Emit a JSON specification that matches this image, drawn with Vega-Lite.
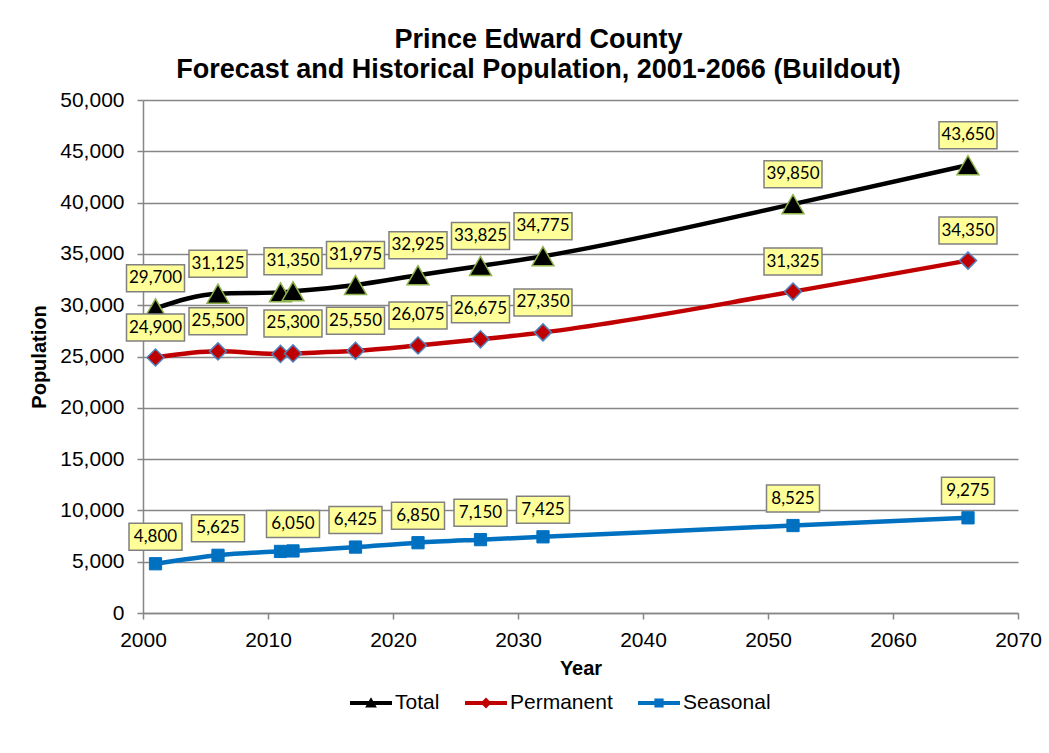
{
  "$schema": "https://vega.github.io/schema/vega-lite/v6.json",
  "autosize": {"type": "none"},
  "padding": {"left": 143, "top": 100, "right": 31, "bottom": 140},
  "width": 875,
  "height": 513,
  "background": "white",
  "title": {
    "text": ["Prince Edward County", "Forecast and Historical Population, 2001-2066 (Buildout)"],
    "font": "Liberation Sans",
    "fontSize": 27,
    "fontWeight": "bold",
    "lineHeight": 30.5,
    "color": "black",
    "anchor": "middle",
    "dx": -42,
    "offset": 5
  },
  "data": {
    "values": [
      {"year": 2001, "series": "Total", "population": 29700},
      {"year": 2006, "series": "Total", "population": 31125},
      {"year": 2011, "series": "Total", "population": 31250},
      {"year": 2012, "series": "Total", "population": 31350},
      {"year": 2017, "series": "Total", "population": 31975},
      {"year": 2022, "series": "Total", "population": 32925},
      {"year": 2027, "series": "Total", "population": 33825},
      {"year": 2032, "series": "Total", "population": 34775},
      {"year": 2052, "series": "Total", "population": 39850},
      {"year": 2066, "series": "Total", "population": 43650},
      {"year": 2001, "series": "Permanent", "population": 24900},
      {"year": 2006, "series": "Permanent", "population": 25500},
      {"year": 2011, "series": "Permanent", "population": 25250},
      {"year": 2012, "series": "Permanent", "population": 25300},
      {"year": 2017, "series": "Permanent", "population": 25550},
      {"year": 2022, "series": "Permanent", "population": 26075},
      {"year": 2027, "series": "Permanent", "population": 26675},
      {"year": 2032, "series": "Permanent", "population": 27350},
      {"year": 2052, "series": "Permanent", "population": 31325},
      {"year": 2066, "series": "Permanent", "population": 34350},
      {"year": 2001, "series": "Seasonal", "population": 4800},
      {"year": 2006, "series": "Seasonal", "population": 5625},
      {"year": 2011, "series": "Seasonal", "population": 6000},
      {"year": 2012, "series": "Seasonal", "population": 6050},
      {"year": 2017, "series": "Seasonal", "population": 6425},
      {"year": 2022, "series": "Seasonal", "population": 6850},
      {"year": 2027, "series": "Seasonal", "population": 7150},
      {"year": 2032, "series": "Seasonal", "population": 7425},
      {"year": 2052, "series": "Seasonal", "population": 8525},
      {"year": 2066, "series": "Seasonal", "population": 9275}
    ]
  },
  "encoding": {
    "x": {
      "field": "year",
      "type": "quantitative",
      "scale": {"domain": [2000, 2070], "nice": false, "zero": false},
      "axis": {
        "title": "Year",
        "values": [2000, 2010, 2020, 2030, 2040, 2050, 2060, 2070],
        "format": "d",
        "grid": false,
        "domainColor": "#868686",
        "domainWidth": 1.5,
        "tickColor": "#868686",
        "tickWidth": 1.5,
        "tickSize": 6,
        "labelPadding": 10,
        "labelFont": "Liberation Sans",
        "labelFontSize": 21,
        "labelColor": "black",
        "labelFlush": false,
        "titleFont": "Liberation Sans",
        "titleFontSize": 20,
        "titleFontWeight": "bold",
        "titleColor": "black",
        "titlePadding": 8
      }
    },
    "y": {
      "field": "population",
      "type": "quantitative",
      "scale": {"domain": [0, 50000], "nice": false},
      "axis": {
        "title": "Population",
        "values": [0, 5000, 10000, 15000, 20000, 25000, 30000, 35000, 40000, 45000, 50000],
        "format": ",d",
        "grid": true,
        "gridColor": "#868686",
        "gridWidth": 1.5,
        "domainColor": "#868686",
        "domainWidth": 1.5,
        "tickColor": "#868686",
        "tickWidth": 1.5,
        "tickSize": 6,
        "labelPadding": 13,
        "labelFont": "Liberation Sans",
        "labelFontSize": 21,
        "labelColor": "black",
        "labelFlush": false,
        "titleFont": "Liberation Sans",
        "titleFontSize": 20,
        "titleFontWeight": "bold",
        "titleColor": "black",
        "titlePadding": 10
      }
    }
  },
  "layer": [
    {
      "mark": {"type": "line", "strokeWidth": 4.5, "interpolate": "monotone"},
      "encoding": {
        "color": {
          "field": "series",
          "type": "nominal",
          "scale": {"domain": ["Total", "Permanent", "Seasonal"], "range": ["#000000", "#C00000", "#0070C0"]},
          "legend": {
            "title": null,
            "orient": "none",
            "direction": "horizontal",
            "legendX": 207,
            "legendY": 582,
            "columns": 3,
            "columnPadding": 25,
            "symbolSize": 1764,
            "symbolStrokeWidth": 0,
            "labelFont": "Liberation Sans",
            "labelFontSize": 21,
            "labelColor": "black",
            "labelOffset": 3,
            "encode": {
              "symbols": {
                "update": {
                  "shape": {"signal": "datum.value === 'Total' ? 'M-1,-0.1H1V0.1H-1Z M0,-0.27L0.28,0.22L-0.28,0.22Z' : datum.value === 'Permanent' ? 'M-1,-0.1H1V0.1H-1Z M0,-0.26L0.26,0L0,0.26L-0.26,0Z' : 'M-1,-0.1H1V0.1H-1Z M-0.22,-0.22H0.22V0.22H-0.22Z'"},
                  "fill": {"signal": "scale('color', datum.value)"},
                  "stroke": {"value": "transparent"},
                  "opacity": {"value": 1}
                }
              }
            }
          }
        }
      }
    },
    {
      "transform": [{"filter": "datum.series === 'Total'"}],
      "mark": {"type": "point", "shape": "triangle-up", "size": 480, "filled": true, "fill": "#000000", "stroke": "#8DB14A", "strokeWidth": 1.5, "opacity": 1}
    },
    {
      "transform": [{"filter": "datum.series === 'Permanent'"}],
      "mark": {"type": "point", "shape": "diamond", "size": 290, "filled": true, "fill": "#C00000", "stroke": "#4F81BD", "strokeWidth": 1.5, "opacity": 1}
    },
    {
      "transform": [{"filter": "datum.series === 'Seasonal'"}],
      "mark": {"type": "point", "shape": "square", "size": 150, "filled": true, "fill": "#0070C0", "stroke": "#0070C0", "strokeWidth": 1, "opacity": 1}
    },
    {
      "transform": [{"filter": "datum.year !== 2011 && datum.series !== 'Seasonal'"}],
      "mark": {"type": "point", "shape": "M-1,-0.4655H1V0.4655H-1Z", "size": 3364, "filled": false, "fill": "#FFFF99", "fillOpacity": 1, "stroke": "#808080", "strokeWidth": 1.5, "opacity": 1, "yOffset": -30}
    },
    {
      "transform": [{"filter": "datum.year !== 2011 && datum.series !== 'Seasonal'"}],
      "mark": {"type": "text", "font": "Lato", "fontSize": 17, "color": "black", "baseline": "middle", "align": "center", "yOffset": -30},
      "encoding": {"text": {"field": "population", "type": "quantitative", "format": ","}}
    },
    {
      "transform": [{"filter": "datum.year !== 2011 && datum.series === 'Seasonal'"}],
      "mark": {"type": "point", "shape": "M-1,-0.509H1V0.509H-1Z", "size": 2809, "filled": false, "fill": "#FFFF99", "fillOpacity": 1, "stroke": "#808080", "strokeWidth": 1.5, "opacity": 1, "yOffset": -27}
    },
    {
      "transform": [{"filter": "datum.year !== 2011 && datum.series === 'Seasonal'"}],
      "mark": {"type": "text", "font": "Lato", "fontSize": 17, "color": "black", "baseline": "middle", "align": "center", "yOffset": -27},
      "encoding": {"text": {"field": "population", "type": "quantitative", "format": ","}}
    }
  ],
  "config": {"view": {"stroke": null}}
}
